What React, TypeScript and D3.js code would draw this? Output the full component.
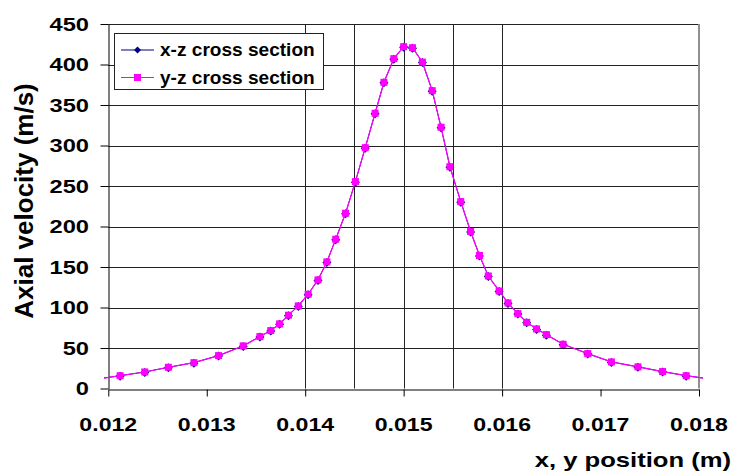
import { useEffect, useRef } from 'react';
import * as d3 from 'd3';

// readings (position in m, velocity in m/s)
const positions = [
  0.01188, 0.01212, 0.01237, 0.01261, 0.01287, 0.01312, 0.01337, 0.01354, 0.01365, 0.01374,
  0.01383, 0.01393, 0.01403, 0.01413, 0.01422, 0.01431, 0.01441, 0.01451, 0.01461, 0.01471,
  0.0148, 0.0149, 0.015, 0.01509, 0.01519, 0.01529, 0.01538, 0.01547, 0.01558, 0.01568,
  0.01577, 0.01586, 0.01597, 0.01606, 0.01616, 0.01625, 0.01635, 0.01645, 0.01662, 0.01687,
  0.01711, 0.01738, 0.01763, 0.01787, 0.01812,
];
const yzVelocity = [
  11.6, 15.8, 20.4, 26.2, 31.9, 40.6, 52.6, 64.1, 71.5, 79.8,
  90.5, 102, 116.4, 134.1, 156.3, 184.3, 216.4, 255.4, 297.3, 339.8,
  378, 407.2, 422, 420.7, 403, 367.7, 322.5, 273.8, 230.7, 193.8,
  164.2, 138.9, 120.4, 105.6, 92.5, 81.7, 73.5, 66.5, 54.6, 43.1,
  32.8, 26.7, 20.9, 15.8, 11.6,
];
// x-z series sits underneath the y-z markers, only its edges show
const xzVelocity = yzVelocity;

const seriesNames = ['x-z cross section', 'y-z cross section'];
const yTicks = [0, 50, 100, 150, 200, 250, 300, 350, 400, 450];
const xTicks = [0.012, 0.013, 0.014, 0.015, 0.016, 0.017, 0.018];
const markerLines = [0.014, 0.0145, 0.015, 0.0155, 0.016];

const FONT = '"Liberation Sans", Arial, sans-serif';

export default function App() {
  const svgRef = useRef<SVGSVGElement>(null);
  const width = 732;
  const height = 473;

  useEffect(() => {
    if (!svgRef.current) return;
    const svg = d3.select(svgRef.current);
    svg.selectAll('*').remove();

    const left = 108.3, right = 699, top = 24, bottom = 388.5;
    const x = d3.scaleLinear().domain([0.012, 0.018]).range([left, right]);
    const y = d3.scaleLinear().domain([0, 450]).range([bottom, top]);

    svg.append('rect').attr('width', width).attr('height', height).attr('fill', '#fff');

    const label = (tx: number, ty: number, text: string, size: number, sx: number, anchor: string) =>
      svg
        .append('text')
        .attr('transform', `translate(${tx},${ty}) scale(${sx},1)`)
        .attr('text-anchor', anchor)
        .attr('font-family', FONT)
        .attr('font-weight', 'bold')
        .attr('font-size', size)
        .attr('fill', '#000')
        .text(text);

    // horizontal gridlines
    svg
      .append('g')
      .selectAll('line')
      .data(yTicks.filter((d) => d > 0))
      .join('line')
      .attr('x1', left)
      .attr('x2', right)
      .attr('y1', (d) => Math.round(y(d)) + 0.5)
      .attr('y2', (d) => Math.round(y(d)) + 0.5)
      .attr('stroke', '#222')
      .attr('stroke-width', 1);

    // vertical lines
    svg
      .append('g')
      .selectAll('line')
      .data(markerLines)
      .join('line')
      .attr('x1', (d) => Math.round(x(d)) + 0.5)
      .attr('x2', (d) => Math.round(x(d)) + 0.5)
      .attr('y1', top)
      .attr('y2', bottom)
      .attr('stroke', '#222')
      .attr('stroke-width', 1);

    // right border
    svg
      .append('line')
      .attr('x1', right)
      .attr('x2', right)
      .attr('y1', top)
      .attr('y2', bottom)
      .attr('stroke', '#909090')
      .attr('stroke-width', 2);

    // axes
    const yAxis = svg
      .append('g')
      .attr('transform', `translate(${Math.round(left) + 0.5},0)`)
      .call(d3.axisLeft(y).tickValues(yTicks).tickSize(8).tickSizeOuter(0).tickFormat(() => ''));
    yAxis.selectAll('path,line').attr('stroke', '#000');

    const xAxis = svg
      .append('g')
      .attr('transform', `translate(0,${Math.round(bottom) + 0.5})`)
      .call(d3.axisBottom(x).tickValues(xTicks).tickSize(7).tickSizeOuter(0).tickFormat(() => ''));
    xAxis.selectAll('path,line').attr('stroke', '#000');

    yTicks.forEach((t) => label(89, y(t) + 6.6, String(t), 18.5, 1.28, 'end'));
    xTicks.forEach((t) => label(x(t), 431, d3.format('.3f')(t), 18.5, 1.25, 'middle'));

    label(731, 467, 'x, y position (m)', 20.5, 1.25, 'end');
    svg
      .append('text')
      .attr('transform', 'translate(33,201) rotate(-90)')
      .attr('text-anchor', 'middle')
      .attr('font-family', FONT)
      .attr('font-weight', 'bold')
      .attr('font-size', 26)
      .text('Axial velocity (m/s)');

    // series
    svg
      .append('clipPath')
      .attr('id', 'plot-clip')
      .append('rect')
      .attr('x', 104)
      .attr('y', 0)
      .attr('width', 703 - 104)
      .attr('height', bottom);

    const plot = svg.append('g').attr('clip-path', 'url(#plot-clip)');
    const line = d3
      .line<number>()
      .x((_, i) => x(positions[i]))
      .y((d) => y(d));

    const inside = (i: number) => positions[i] >= 0.012 && positions[i] <= 0.018;

    plot
      .append('path')
      .datum(xzVelocity)
      .attr('fill', 'none')
      .attr('stroke', '#000080')
      .attr('stroke-width', 1)
      .attr('d', line);
    plot
      .append('g')
      .selectAll('path')
      .data(xzVelocity.map((v, i) => [i, v]).filter(([i]) => inside(i)))
      .join('path')
      .attr('d', 'M0,-4.5L4.5,0L0,4.5L-4.5,0Z')
      .attr('transform', ([i, v]) => `translate(${x(positions[i])},${y(v) + 0.5})`)
      .attr('fill', '#000080');

    plot
      .append('path')
      .datum(yzVelocity)
      .attr('fill', 'none')
      .attr('stroke', '#ff00ff')
      .attr('stroke-width', 1.2)
      .attr('d', line);
    plot
      .append('g')
      .selectAll('rect')
      .data(yzVelocity.map((v, i) => [i, v]).filter(([i]) => inside(i)))
      .join('rect')
      .attr('x', ([i]) => x(positions[i]) - 3.5)
      .attr('y', ([, v]) => y(v) - 3.5)
      .attr('width', 7)
      .attr('height', 7)
      .attr('fill', '#ff00ff');

    // legend
    const lg = svg.append('g');
    lg.append('rect')
      .attr('x', 114.5)
      .attr('y', 33.5)
      .attr('width', 209)
      .attr('height', 56)
      .attr('fill', '#fff')
      .attr('stroke', '#222')
      .attr('stroke-width', 1);
    seriesNames.forEach((name, i) => {
      const ly = 50 + i * 27.5;
      const color = i === 0 ? '#000080' : '#ff00ff';
      lg.append('line')
        .attr('x1', 121)
        .attr('x2', 154)
        .attr('y1', ly)
        .attr('y2', ly)
        .attr('stroke', color)
        .attr('stroke-width', 1.2);
      if (i === 0) {
        lg.append('path').attr('d', `M137.5,${ly - 3.5}L141,${ly}L137.5,${ly + 3.5}L134,${ly}Z`).attr('fill', color);
      } else {
        lg.append('rect').attr('x', 134).attr('y', ly - 3.5).attr('width', 7).attr('height', 7).attr('fill', color);
      }
      lg.append('text')
        .attr('transform', `translate(160,${ly + 6}) scale(1.06,1)`)
        .attr('font-family', FONT)
        .attr('font-weight', 'bold')
        .attr('font-size', 18)
        .text(name);
    });
  }, []);

  return (
    <svg
      ref={svgRef}
      width={width}
      height={height}
      style={{ position: 'absolute', left: 0, top: 0 }}
    />
  );
}
